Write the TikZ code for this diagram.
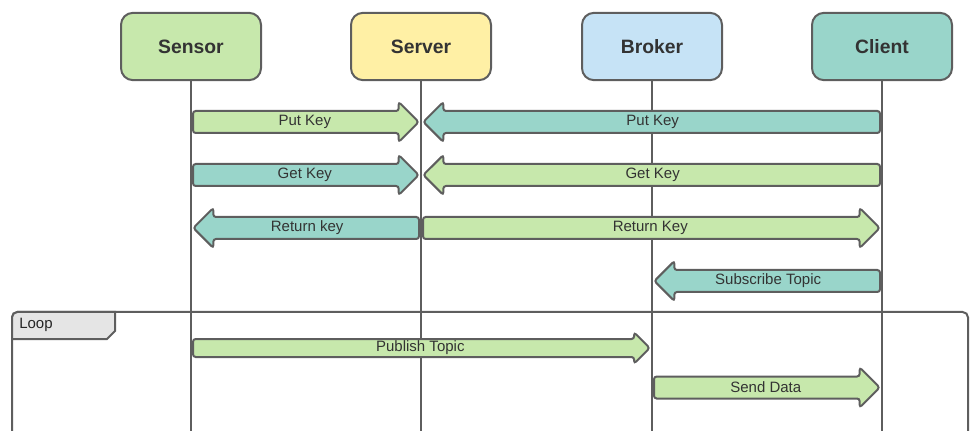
\documentclass[tikz,border=0pt]{standalone}
\usepackage{fontspec}
\setmainfont{Liberation Sans}
\usetikzlibrary{calc,shapes.arrows}

\definecolor{lgreen}{HTML}{C7E8AC}
\definecolor{lyellow}{HTML}{FFF0A5}
\definecolor{lblue}{HTML}{C6E3F6}
\definecolor{lteal}{HTML}{99D5CA}
\definecolor{lgrey}{HTML}{E5E5E5}
\definecolor{edge}{HTML}{5E5E5E}
\definecolor{ink}{HTML}{333333}

\tikzset{
  actor/.style={draw=edge, line width=1.5pt, rounded corners=9pt, minimum width=105pt, minimum height=50.5pt,
    font=\fontsize{14.5}{17}\selectfont\bfseries, text=ink},
  lifeline/.style={draw=edge, line width=1.5pt},
  msg/.style={single arrow, draw=edge, line width=1.5pt, rounded corners=2pt, minimum width=28.5pt,
    single arrow head extend=6.75pt, single arrow head indent=0pt, inner xsep=0pt, inner ysep=7.5pt},
  smallmsg/.style={msg, minimum width=22pt, single arrow head extend=4.9pt, inner ysep=6pt},
  msglabel/.style={inner sep=0pt, font=\fontsize{11.25}{13}\selectfont, text=ink},
}

% fat arrow between two lifelines: [style]{name}{fill}{from}{to}{y}{label}
\newcommand\sendmsg[7][msg]{%
  \path let \p1=(#4.south |- 0,#6), \p2=(#5.south |- 0,#6),
    \n1={(\x2>\x1)*2-1}, \n2={\x1+0.75pt*\n1}, \n3={\x2-2.5pt*\n1}
    in node (#2) [#1, fill=#3, minimum height={abs(\n3-\n2)}, shape border rotate={90-90*\n1}, anchor=tail]
    at (\n2,\y1) {}
    node (#2-text) [msglabel] at ({(\n2+\n3)/2},\y1) {#7};
}

\begin{document}
\begin{tikzpicture}[x=0.75pt,y=-0.75pt]
\useasboundingbox (0,0) rectangle (972,431);

% Participants
\node (sensor) [actor, fill=lgreen] at (191,46.5) {Sensor};
\node (server) [actor, fill=lyellow] at (421,46.5) {Server};
\node (broker) [actor, fill=lblue] at (652,46.5) {Broker};
\node (client) [actor, fill=lteal] at (882,46.5) {Client};

% Lifelines
\foreach \p in {sensor,server,broker,client}
  \draw[lifeline] (\p.south) -- (\p.south |- 0,440);

% Loop frame
\draw[lifeline, rounded corners=4pt] (12,440) -- (12,312) -- (968,312) -- (968,440);
\draw[lifeline, fill=lgrey] (12,339) [rounded corners=4pt]-- (12,312) [sharp corners]-- (115,312) -- (115,331) -- (107,339) -- cycle;
\node (looplabel) [anchor=west, inner sep=0pt, font=\fontsize{11.25}{13}\selectfont, text=black!85] at (19,325) {Loop};

% Messages
\sendmsg{putA}{lgreen}{sensor}{server}{122}{Put Key}
\sendmsg{putB}{lteal}{client}{server}{122}{Put Key}
\sendmsg{getA}{lteal}{sensor}{server}{175}{Get Key}
\sendmsg{getB}{lgreen}{client}{server}{175}{Get Key}
\sendmsg{retA}{lteal}{server}{sensor}{228}{Return key}
\sendmsg{retB}{lgreen}{server}{client}{228}{Return Key}
\sendmsg{subscribe}{lteal}{client}{broker}{281}{Subscribe Topic}
\sendmsg[smallmsg]{publish}{lgreen}{sensor}{broker}{348}{Publish Topic}
\sendmsg{senddata}{lgreen}{broker}{client}{387.5}{Send Data}
\end{tikzpicture}
\end{document}
